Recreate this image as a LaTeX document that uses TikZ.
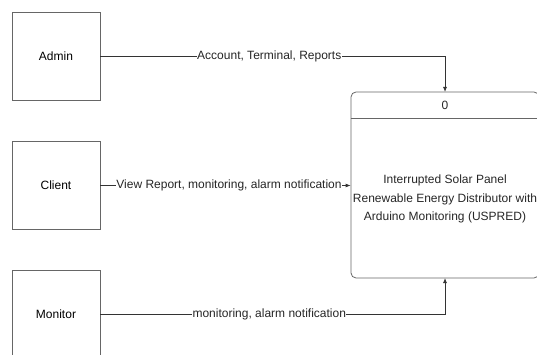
\documentclass[tikz,border=0pt]{standalone}
\usepackage{fontspec}
\setmainfont{Liberation Sans}
\usetikzlibrary{arrows.meta}
\begin{document}
\begin{tikzpicture}[x=1pt,y=-1pt,
  ent/.style={draw=black!60,line width=0.8pt,minimum width=88pt,minimum height=88pt,inner sep=0pt,font=\fontsize{12}{14}\selectfont},
  flow/.style={draw=black!80,line width=0.8pt,-{Latex[length=5pt,width=4pt]}},
  lbl/.style={fill=white,inner sep=0.5pt,font=\fontsize{12}{14}\selectfont,text=black!85}]
\useasboundingbox (0,0) rectangle (537,355);
\node[ent] (admin) at (56,56) {Admin};
\node[ent] (client) at (56,185.5) {Client};
\node[ent] (monitor) at (56,314) {Monitor};
\node[draw=black!60,line width=0.8pt,rounded corners=5pt,minimum width=188pt,minimum height=186pt,inner sep=0pt] (proc) at (445,185) {};
\draw[black!60,line width=0.8pt] (proc.west |- 0,118) coordinate (hl) -- (proc.east |- 0,118) coordinate (hr);
\node[font=\fontsize{12}{14}\selectfont,text=black!85] (pid) at (445,105) {0};
\node[font=\fontsize{12}{18.5}\selectfont,align=center,text=black!85] (ptext) at (445,199) {Interrupted Solar Panel\\Renewable Energy Distributor with\\Arduino Monitoring (USPRED)};
\coordinate (ptop) at (445,92);
\coordinate (pbot) at (445,278);
\draw[flow] (admin.east) -- node[lbl,pos=0.49] (l1) {Account, Terminal, Reports} (admin.east -| ptop) -- (ptop);
\draw[flow] (client.east) -- node[lbl,pos=0.514] (l2) {View Report, monitoring, alarm notification} (client.east -| proc.west);
\draw[flow] (monitor.east) -- node[lbl,pos=0.49] (l3) {monitoring, alarm notification} (monitor.east -| pbot) -- (pbot);
\end{tikzpicture}
\end{document}
